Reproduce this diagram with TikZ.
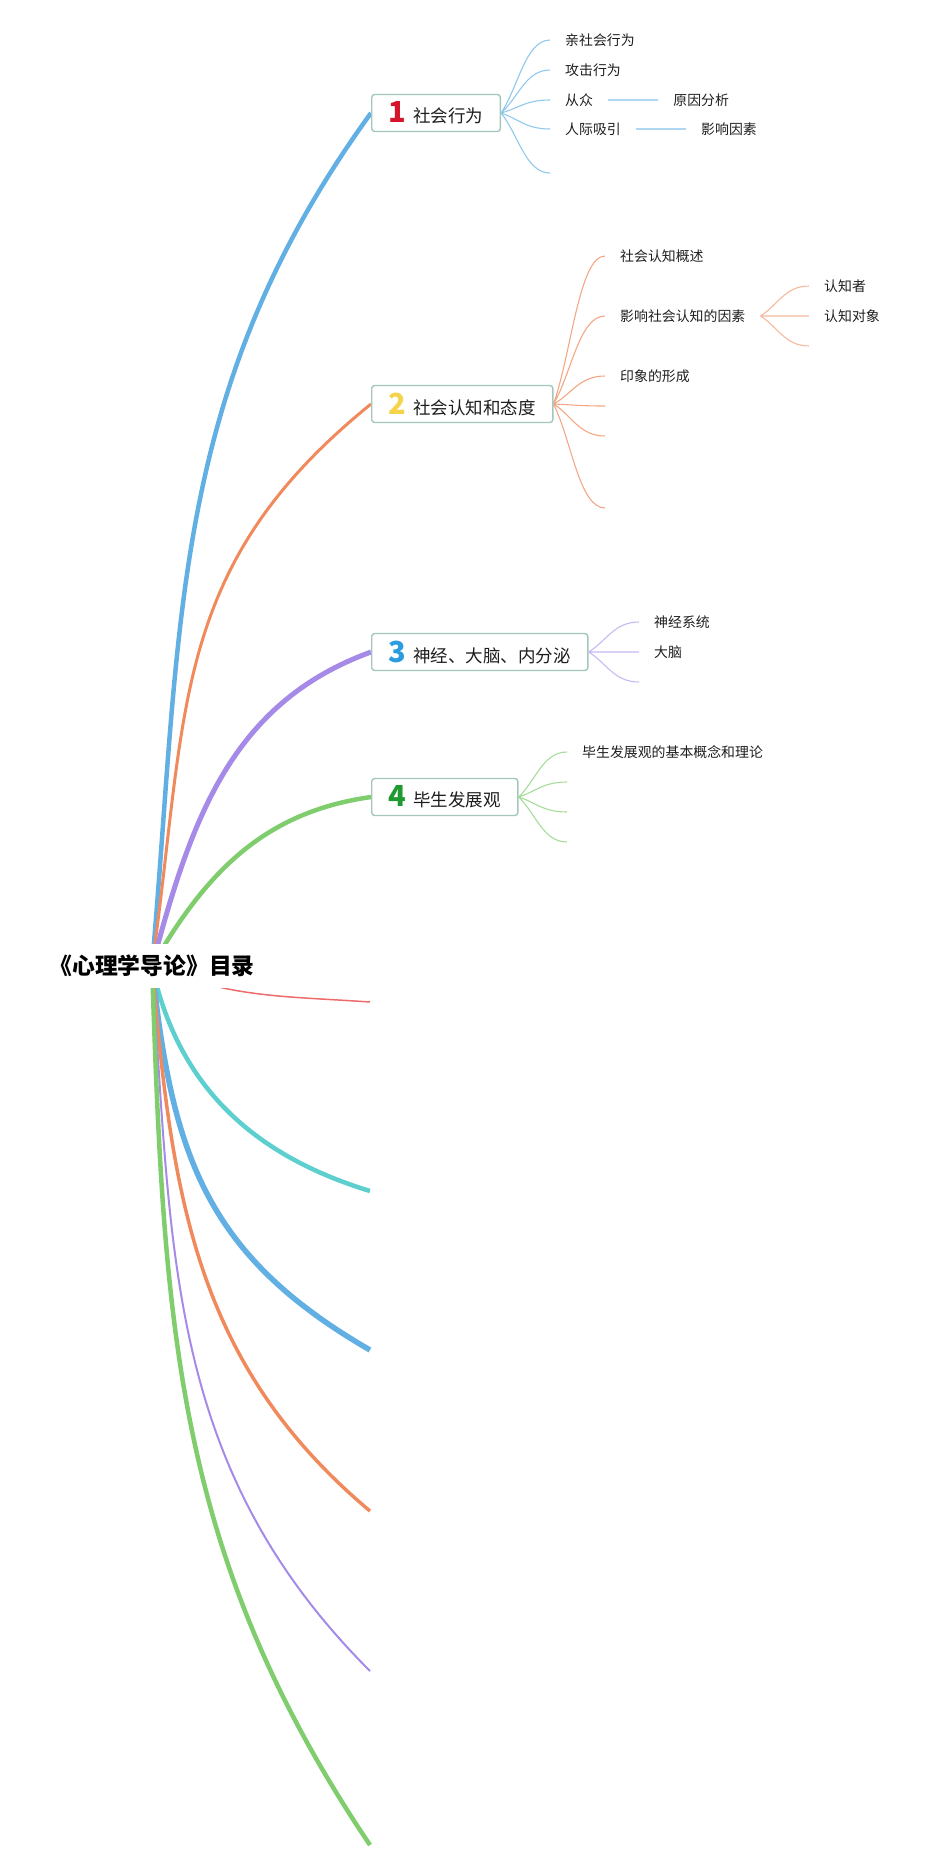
\documentclass[tikz,border=0pt]{standalone}
\usepackage{fontspec}
\setmainfont{Noto Sans CJK SC}
\usetikzlibrary{positioning,calc,backgrounds}
\definecolor{blue}{HTML}{62B0E3}
\definecolor{orange}{HTML}{F08A5D}
\definecolor{purple}{HTML}{A58AE8}
\definecolor{green}{HTML}{80CD6E}
\definecolor{red}{HTML}{EE6B6B}
\definecolor{cyan}{HTML}{5DCFCF}
\definecolor{frame}{HTML}{A3C8BB}
\definecolor{ink}{HTML}{1E1E1E}
\definecolor{one}{HTML}{D6132B}
\definecolor{two}{HTML}{F5D44B}
\definecolor{three}{HTML}{2B9CE0}
\definecolor{four}{HTML}{1F9A30}
\newcommand{\badge}[2]{{\fontsize{29}{29}\selectfont\bfseries\color{#1}#2}\hspace{7pt}}
\tikzset{
  root/.style={font=\fontsize{22.8}{26}\selectfont\bfseries,text=black,fill=white,inner xsep=10pt,inner ysep=11pt},
  topic/.style={font=\fontsize{17.5}{21}\selectfont,text=ink,draw=frame,line width=1.4pt,rounded corners=3pt,fill=white,inner xsep=17pt,inner ysep=2pt,minimum height=37pt,anchor=west},
  leaf/.style={font=\fontsize{13.9}{17}\selectfont,text=ink,inner xsep=15pt,inner ysep=2pt,anchor=west},
  twig/.style={line width=1.1pt,to path={.. controls ($(\tikztostart)!.35!(\tikztotarget)$) and ($(\tikztotarget)!.5!(\tikztostart |- \tikztotarget)$) .. (\tikztotarget) \tikztonodes}},
  link/.style={line width=2pt}
}
\begin{document}
\begin{tikzpicture}[x=1pt,y=1pt]
\useasboundingbox (0,0) rectangle (941,-1872);
\node[root] (r) at (152,-966) {《心理学导论》目录};
% main topics
\node[topic] (b1) at (371,-113) {\badge{one}{1}社会行为};
\node[topic] (b2) at (371,-404) {\badge{two}{2}社会认知和态度};
\node[topic] (b3) at (371,-652) {\badge{three}{3}神经、大脑、内分泌};
\node[topic] (b4) at (371,-797) {\badge{four}{4}毕生发展观};
\coordinate (b5) at (370,-1002);
\coordinate (b6) at (370,-1191);
\coordinate (b7) at (370,-1350);
\coordinate (b8) at (370,-1511);
\coordinate (b9) at (370,-1671);
\coordinate (b10) at (370,-1845);
% 1
\node[leaf] (l1a) at (550,-40) {亲社会行为};
\node[leaf] (l1b) at (550,-70) {攻击行为};
\node[leaf] (l1c) at (550,-100) {从众};
\node[leaf] (l1d) at (550,-129) {人际吸引};
\coordinate (l1e) at (550,-173);
\node[leaf,right=50pt of l1c] (l1c1) {原因分析};
\node[leaf,right=50pt of l1d] (l1d1) {影响因素};
% 2
\node[leaf] (l2a) at (605,-256) {社会认知概述};
\node[leaf] (l2b) at (605,-316) {影响社会认知的因素};
\node[leaf] (l2c) at (605,-376) {印象的形成};
\coordinate (l2d) at (605,-406);
\coordinate (l2e) at (605,-436);
\coordinate (l2f) at (605,-508);
\node[leaf] (l2b1) at (809,-286) {认知者};
\node[leaf] (l2b2) at (809,-316) {认知对象};
\coordinate (l2b3) at (809,-346);
% 3
\node[leaf] (l3a) at (639,-622) {神经系统};
\node[leaf] (l3b) at (639,-652) {大脑};
\coordinate (l3c) at (639,-682);
% 4
\node[leaf] (l4a) at (567,-752) {毕生发展观的基本概念和理论};
\coordinate (l4b) at (567,-782);
\coordinate (l4c) at (567,-812);
\coordinate (l4d) at (567,-842);
\begin{scope}[on background layer]
\draw[blue,line width=4.5pt] (r.center) to[out=85,in=234] (b1.west);
\draw[orange,line width=3pt] (r.center) to[out=82,in=219,looseness=1.1] (b2.west);
\draw[purple,line width=5pt] (r.center) to[out=75,in=200] (b3.west);
\draw[green,line width=4.5pt] (r.center) to[out=60,in=188] (b4.west);
\draw[red,line width=1.5pt] (r.center) to[out=-22,in=176] (b5);
\draw[cyan,line width=4.5pt] (r.center) to[out=-78,in=163] (b6);
\draw[blue,line width=5.5pt] (r.center) to[out=-84,in=150,looseness=1.1] (b7);
\draw[orange,line width=3.5pt] (r.center) to[out=-85,in=140] (b8);
\draw[purple,line width=2pt] (r.center) to[out=-86,in=135] (b9);
\draw[green,line width=4.5pt] (r.center) to[out=-88,in=124] (b10);
\draw[twig,blue!70] (b1.east) to (l1a.west) (b1.east) to (l1b.west) (b1.east) to (l1c.west)
  (b1.east) to (l1d.west) (b1.east) to (l1e);
\draw[link,blue!50] (l1c) -- (l1c1);
\draw[link,blue!50] (l1d) -- (l1d1);
\draw[twig,orange!75] (b2.east) to (l2a.west) (b2.east) to (l2b.west) (b2.east) to (l2c.west)
  (b2.east) to (l2d) (b2.east) to (l2e) (b2.east) to (l2f);
\draw[twig,orange!60] (l2b.east) to (l2b1.west) (l2b.east) to (l2b2.west) (l2b.east) to (l2b3);
\draw[twig,purple!60] (b3.east) to (l3a.west) (b3.east) to (l3b.west) (b3.east) to (l3c);
\draw[twig,green!70] (b4.east) to (l4a.west) (b4.east) to (l4b) (b4.east) to (l4c) (b4.east) to (l4d);
\end{scope}
\end{tikzpicture}
\end{document}
